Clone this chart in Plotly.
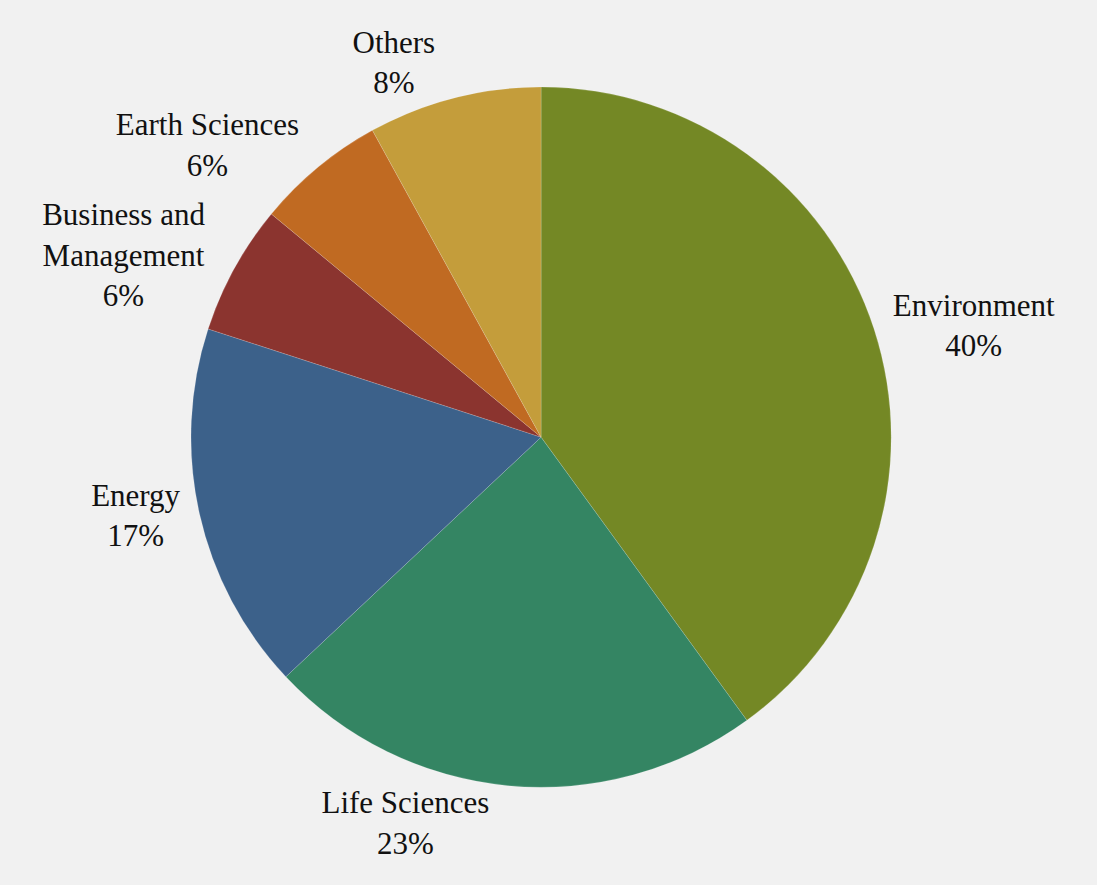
import plotly.graph_objects as go

# Share of projects by field (clockwise from top)
fields = ["Environment", "Life Sciences", "Energy", "Business and Management", "Earth Sciences", "Others"]
field_text = ["Environment", "Life Sciences", "Energy", "Business and<br>Management", "Earth Sciences", "Others"]
shares = [40, 23, 17, 6, 6, 8]
colors = ["#748825", "#348563", "#3c618a", "#8b342f", "#c06a22", "#c49d3b"]

fig = go.Figure()
fig.add_trace(go.Pie(
    labels=fields, values=shares, text=field_text,
    texttemplate="%{text}<br>%{percent:.0%}",
    textposition="outside", textinfo="text",
    sort=False, direction="clockwise", rotation=0,
    marker=dict(colors=colors, line=dict(color="rgba(255,255,255,0.3)", width=0.5)),
    outsidetextfont=dict(family="Liberation Serif, serif", size=31, color="#111111"),
    showlegend=False, hoverinfo="label+percent",
    domain=dict(x=[0.0, 0.95], y=[0.0, 0.985]),
))

fig.update_layout(
    width=1097, height=885,
    margin=dict(l=0, r=0, t=0, b=0),
    font=dict(family="Liberation Serif, serif", size=31, color="#111111"),
    paper_bgcolor="#f1f1f1", plot_bgcolor="#f1f1f1",
)

fig.write_html(
    "out.html",
    config={"displayModeBar": False},
    post_script="document.body.style.margin='0';document.body.style.background='#f1f1f1';",
)
